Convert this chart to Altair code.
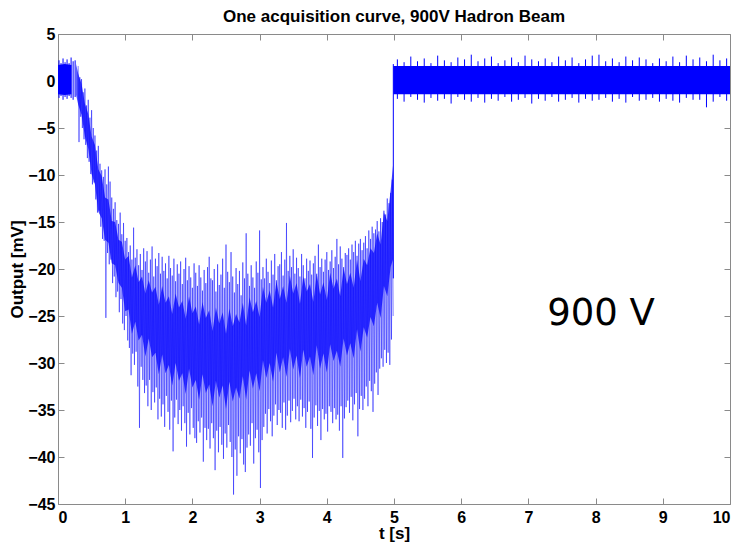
import altair as alt
import pandas as pd

# ---------------- text ----------------
title_text = "One acquisition curve, 900V Hadron Beam"
x_title = "t [s]"
y_title = "Output [mV]"
annotation = ["900 V"]
x_ticks = [0, 1, 2, 3, 4, 5, 6, 7, 8, 9, 10]
y_ticks = [-45, -40, -35, -30, -25, -20, -15, -10, -5, 0, 5]

# ---------------- dense core of the trace ----------------
core_t = [0.0, 0.1, 0.2, 0.27,
          0.30, 0.35, 0.40, 0.45, 0.50, 0.55, 0.60, 0.65, 0.70, 0.75, 0.80, 0.85,
          0.90, 0.95, 1.00, 1.05, 1.10, 1.15, 1.20, 1.25, 1.30, 1.35, 1.40, 1.45,
          1.50, 1.55, 1.60, 1.65, 1.70, 1.75, 1.80, 1.85, 1.90, 1.95, 2.00, 2.05,
          2.10, 2.15, 2.20, 2.25, 2.30, 2.35, 2.40, 2.45, 2.50, 2.55, 2.60, 2.65,
          2.70, 2.75, 2.80, 2.85, 2.90, 2.95, 3.00, 3.05, 3.10, 3.15, 3.20, 3.25,
          3.30, 3.35, 3.40, 3.45, 3.50, 3.55, 3.60, 3.65, 3.70, 3.75, 3.80, 3.85,
          3.90, 3.95, 4.00, 4.05, 4.10, 4.15, 4.20, 4.25, 4.30, 4.35, 4.40, 4.45,
          4.50, 4.55, 4.60, 4.65, 4.70, 4.75, 4.80, 4.85, 4.90, 4.95, 4.985,
          4.99, 10.0]
core_hi = [1.7, 1.8, 1.7, 1.8,
           0.8, -0.3, -2.4, -3.5, -5.9, -6.8, -9.4, -10.1, -12.4, -12.6, -14.9, -15.0,
           -16.9, -17.1, -19.0, -18.6, -20.9, -19.6, -21.4, -20.8, -22.6, -21.2, -22.5,
           -21.9, -23.8, -21.8, -23.6, -22.9, -24.8, -22.6, -24.1, -23.4, -25.3, -22.9,
           -24.7, -24.0, -25.9, -23.5, -25.2, -24.4, -26.6, -24.1, -25.8, -24.6, -26.9,
           -24.2, -26.1, -24.8, -25.7, -23.6, -26.0, -23.0, -24.6, -23.4, -25.1, -21.9,
           -23.6, -22.3, -24.1, -21.3, -23.2, -21.8, -23.6, -20.7, -22.6, -21.5, -23.7,
           -20.8, -22.4, -21.6, -23.5, -20.5, -22.7, -21.4, -23.3, -20.4, -22.1, -21.0,
           -22.9, -19.9, -21.6, -20.4, -22.0, -19.0, -21.3, -18.9, -19.6, -17.8,
           -18.3, -16.2, -17.4, -14.0, -14.9, -11.6, -9.0,
           1.6, 1.6]
core_lo = [-1.4, -1.5, -1.4, -1.5,
           -2.5, -3.6, -5.9, -7.2, -9.9, -11.0, -13.9, -14.6, -16.9, -17.2, -19.4, -19.6,
           -21.5, -22.0, -24.5, -24.3, -26.9, -25.6, -27.6, -27.0, -29.3, -27.4, -29.4,
           -28.9, -31.2, -29.1, -31.1, -30.2, -32.4, -30.0, -31.9, -31.1, -33.3, -30.6,
           -32.6, -31.8, -33.9, -31.2, -33.2, -32.3, -34.6, -31.9, -33.7, -32.4, -34.9,
           -32.0, -34.1, -32.6, -33.8, -31.4, -33.9, -30.8, -32.7, -31.1, -33.0, -29.7,
           -31.6, -30.0, -32.0, -28.9, -31.0, -29.4, -31.5, -28.5, -30.7, -29.2, -31.6,
           -28.6, -30.4, -29.3, -31.3, -28.1, -30.6, -29.0, -31.0, -28.0, -29.8, -28.7,
           -30.4, -27.4, -29.2, -27.9, -29.5, -26.4, -28.8, -26.2, -27.3, -25.1,
           -26.1, -23.6, -25.2, -21.8, -22.9, -19.8, -19.0,
           -1.4, -1.4]

# ---------------- noise excursions, 0.30 s .. 4.975 s every 0.025 s ----------------
spike_hi = [
    1.6, 0.4, 0.2, -1.2, -0.8, -2.6, -2.0, -3.9, -3.1, -5.0,
    -5.8, -7.4, -6.9, -8.8, -9.5, -10.2, -9.4, -11.0, -9.1, -10.7,
    -12.4, -13.6, -12.9, -14.8, -15.2, -14.0, -16.3, -15.1, -17.0, -16.7,
    -18.2, -17.5, -19.0, -15.6, -18.8, -17.9, -19.6, -18.4, -20.1, -17.8,
    -19.2, -18.1, -20.4, -19.0, -17.6, -20.8, -18.9, -19.7, -18.3, -20.5,
    -18.7, -20.2, -19.4, -21.0, -18.6, -19.9, -20.7, -18.9, -21.3, -19.5,
    -20.5, -19.2, -21.6, -20.0, -18.8, -21.2, -19.7, -20.9, -22.0, -19.4,
    -20.4, -21.8, -19.6, -20.9, -22.3, -20.1, -21.5, -19.8, -18.7, -21.0,
    -21.2, -20.0, -22.4, -19.5, -21.7, -20.6, -18.9, -22.0, -17.4, -20.3,
    -21.4, -18.2, -20.8, -22.5, -19.9, -21.6, -20.2, -22.8, -19.3, -21.0,
    -16.2, -20.5, -21.8, -19.6, -20.9, -22.0, -19.2, -20.4, -15.9, -21.1,
    -19.8, -21.0, -18.9, -20.3, -21.5, -19.1, -20.6, -18.4, -21.2, -19.7,
    -19.5, -18.2, -20.7, -19.0, -15.1, -20.2, -18.6, -19.8, -17.9, -20.5,
    -18.8, -19.9, -20.8, -18.4, -19.6, -21.0, -18.9, -20.2, -19.1, -20.6,
    -19.4, -18.6, -20.5, -17.4, -19.8, -18.9, -20.3, -19.0, -18.2, -20.1,
    -19.2, -18.0, -19.9, -18.7, -16.8, -19.5, -17.6, -18.9, -19.8, -18.3,
    -18.5, -17.8, -19.0, -17.4, -18.2, -17.0, -18.6, -17.3, -16.8, -18.0,
    -17.2, -16.5, -17.8, -15.9, -16.8, -15.5, -16.2, -15.8, -14.9, -16.0,
    -14.6, -15.0, -13.8, -14.2, -12.5, -13.0, -11.9, -10.5,
]
spike_lo = [
    -6.5, -3.8, -5.0, -6.2, -6.8, -8.2, -8.6, -9.9, -11.0, -10.8,
    -12.6, -14.0, -13.8, -15.5, -16.8, -17.0, -25.2, -18.3, -19.5, -19.0,
    -21.5, -20.8, -23.0, -22.4, -24.6, -23.2, -25.8, -26.5, -25.0, -27.6,
    -28.4, -31.3, -29.0, -30.2, -28.8, -32.5, -36.9, -30.4, -31.8, -33.2,
    -32.4, -34.6, -31.8, -35.0, -33.1, -34.2, -32.6, -36.0, -33.8, -35.7,
    -34.4, -36.8, -33.5, -35.2, -37.1, -34.0, -39.4, -35.8, -33.9, -36.5,
    -35.0, -37.2, -34.6, -36.4, -38.9, -35.3, -37.6, -34.8, -36.9, -38.0,
    -38.5, -36.2, -37.4, -35.8, -40.5, -36.9, -38.2, -37.0, -39.1, -36.4,
    -38.0, -41.4, -37.2, -39.5, -36.8, -38.7, -40.2, -37.5, -39.0, -36.6,
    -38.4, -40.0, -44.0, -39.2, -42.0, -37.8, -39.6, -38.1, -40.8, -41.6,
    -39.0, -37.6, -38.8, -36.4, -40.7, -38.0, -37.1, -39.5, -43.3, -38.2,
    -36.8, -35.4, -37.5, -34.9, -36.2, -37.8, -35.6, -34.4, -36.6, -35.0,
    -35.3, -36.9, -34.2, -37.1, -35.6, -34.0, -36.3, -35.1, -33.8, -36.0,
    -34.6, -36.2, -33.9, -35.7, -34.8, -36.9, -35.2, -34.1, -37.0, -40.1,
    -35.8, -34.5, -36.7, -35.1, -38.2, -34.9, -36.0, -35.4, -37.3, -34.6,
    -35.2, -36.4, -34.8, -36.0, -35.5, -37.2, -34.6, -40.1, -35.9, -34.7,
    -34.0, -35.3, -33.6, -36.1, -34.4, -33.2, -37.8, -34.9, -33.5, -35.0,
    -33.8, -32.5, -34.6, -31.9, -33.0, -35.2, -32.2, -31.0, -33.4, -30.6,
    -29.5, -30.4, -28.6, -30.0, -28.9, -30.2, -27.5, -25.0,
]
spike_t = [round(0.30 + 0.025 * i, 3) for i in range(len(spike_hi))]

# ---------------- small excursions of the baseline parts ----------------
pre_hi = [2.2, 1.9, 2.4, 2.0, 2.3, 1.9, 2.5, 2.1, 2.2]
pre_lo = [-1.8, -1.6, -2.0, -1.7, -1.9, -1.6, -1.8, -2.0, -1.7]
pre_t = [round(0.015 + 0.03 * i, 3) for i in range(len(pre_hi))]

post_hi = [2.3, 2.0, 2.6, 2.1, 2.4, 1.9, 2.7, 2.2, 2.0, 2.5, 2.3, 2.8, 2.1, 2.4, 2.6,
           1.9, 2.2, 2.5, 2.0, 2.7, 2.3, 2.1, 2.4, 2.0, 2.6, 2.2, 2.5, 1.9, 2.3, 2.7,
           2.8, 2.1, 2.4, 2.0, 2.6, 2.2, 2.5, 2.3, 1.9, 2.4, 2.1, 2.6, 2.0, 2.7, 2.3,
           2.5, 2.1, 2.8, 2.2, 2.4]
post_lo = [-1.9, -2.2, -1.7, -2.0, -2.3, -1.8, -2.1, -1.9, -2.4, -1.7, -2.0, -2.2,
           -1.8, -2.3, -1.9, -2.1, -1.7, -2.2, -2.0, -1.8, -2.4, -1.9, -2.1, -1.7,
           -2.2, -2.0, -1.8, -2.3, -1.9, -2.1, -2.0, -1.8, -2.2, -1.9, -2.3, -1.7,
           -2.1, -2.0, -1.8, -2.2, -1.9, -2.1, -2.3, -1.8, -2.0, -2.0, -2.8, -2.2,
           -1.7, -2.1]
post_t = [round(5.05 + 0.1 * i, 2) for i in range(len(post_hi))]

trans_t = [4.99]
trans_hi = [1.8]
trans_lo = [-21.0]

# ---------------- tables ----------------
core_df = pd.DataFrame({"t": core_t, "hi": core_hi, "lo": core_lo})
core_df["seg"] = ["pre" if t <= 0.2 else ("post" if t >= 4.99 else "sig") for t in core_t]

# the noisy trace: alternate between each excursion's top and bottom
zig_rows = []
for t, h, l in zip(spike_t, spike_hi, spike_lo):
    zig_rows.append({"t": t, "v": h})
    zig_rows.append({"t": round(t + 0.0125, 4), "v": l})
zig_df = pd.DataFrame(zig_rows)

flat_df = pd.DataFrame({
    "t": pre_t + post_t + trans_t,
    "hi": pre_hi + post_hi + trans_hi,
    "lo": pre_lo + post_lo + trans_lo,
})
text_df = pd.DataFrame({"label": annotation})

GRAY = "#8a8a8a"
BLUE = "#0000ff"
LFONT = "Liberation Sans"

xs = alt.Scale(domain=[0, 10], nice=False, zero=False)
ys = alt.Scale(domain=[-45, 5], nice=False, zero=False)

common = dict(domain=False, grid=False, tickSize=6, tickColor=GRAY, tickWidth=1,
              offset=-6, labelFont=LFONT, labelFontSize=16, labelFontWeight="bold",
              labelColor="black", titleFont=LFONT, titleFontSize=17,
              titleFontWeight="bold", titleColor="black", format="d")

ax_bottom = alt.Axis(orient="bottom", values=x_ticks, title=x_title, labelPadding=5,
                     titlePadding=0, **common)
ax_left = alt.Axis(orient="left", values=y_ticks, title=y_title, labelPadding=3,
                   titlePadding=1, **common)
ax_top = alt.Axis(orient="top", values=x_ticks, title=None, labels=False, **common)
ax_right = alt.Axis(orient="right", values=y_ticks, title=None, labels=False, **common)

flat_spikes = alt.Chart(flat_df).mark_rule(color=BLUE, strokeWidth=1).encode(
    x=alt.X("t:Q", scale=xs, axis=ax_top),
    y=alt.Y("lo:Q", scale=ys, axis=ax_right),
    y2="hi:Q",
)

trace = alt.Chart(zig_df).mark_line(color=BLUE, opacity=0.6, strokeWidth=0.8).encode(
    x=alt.X("t:Q", axis=ax_bottom),
    y=alt.Y("v:Q", axis=ax_left),
)

core_sig = alt.Chart(core_df).transform_filter(
    alt.datum.seg == "sig"
).mark_area(color=BLUE, opacity=0.72).encode(
    x=alt.X("t:Q", axis=None),
    y=alt.Y("lo:Q", axis=None),
    y2="hi:Q",
)

core_flat = alt.Chart(core_df).transform_filter(
    alt.datum.seg != "sig"
).mark_area(color=BLUE, opacity=1).encode(
    x=alt.X("t:Q", axis=None),
    y=alt.Y("lo:Q", axis=None),
    y2="hi:Q",
    detail="seg:N",
)

label = alt.Chart(text_df).mark_text(font="DejaVu Sans", fontSize=37, align="center",
                                     baseline="alphabetic", color="black").encode(
    x=alt.X(datum=8.08, type="quantitative", axis=None),
    y=alt.Y(datum=-26.0, type="quantitative", axis=None),
    text="label:N",
)

chart = alt.layer(flat_spikes, trace, core_sig, core_flat, label).resolve_axis(
    x="independent", y="independent"
).properties(
    width=672,
    height=470,
    autosize=alt.AutoSizeParams(type="none"),
    padding={"left": 58, "top": 34, "right": 7, "bottom": 41},
    background="white",
    title=alt.Title(title_text, font=LFONT, fontSize=17, fontWeight="bold",
                    color="black", offset=0, anchor="middle"),
).configure_view(stroke=GRAY, strokeWidth=1)

chart.save("out.html", embed_options={"renderer": "svg", "actions": False})
